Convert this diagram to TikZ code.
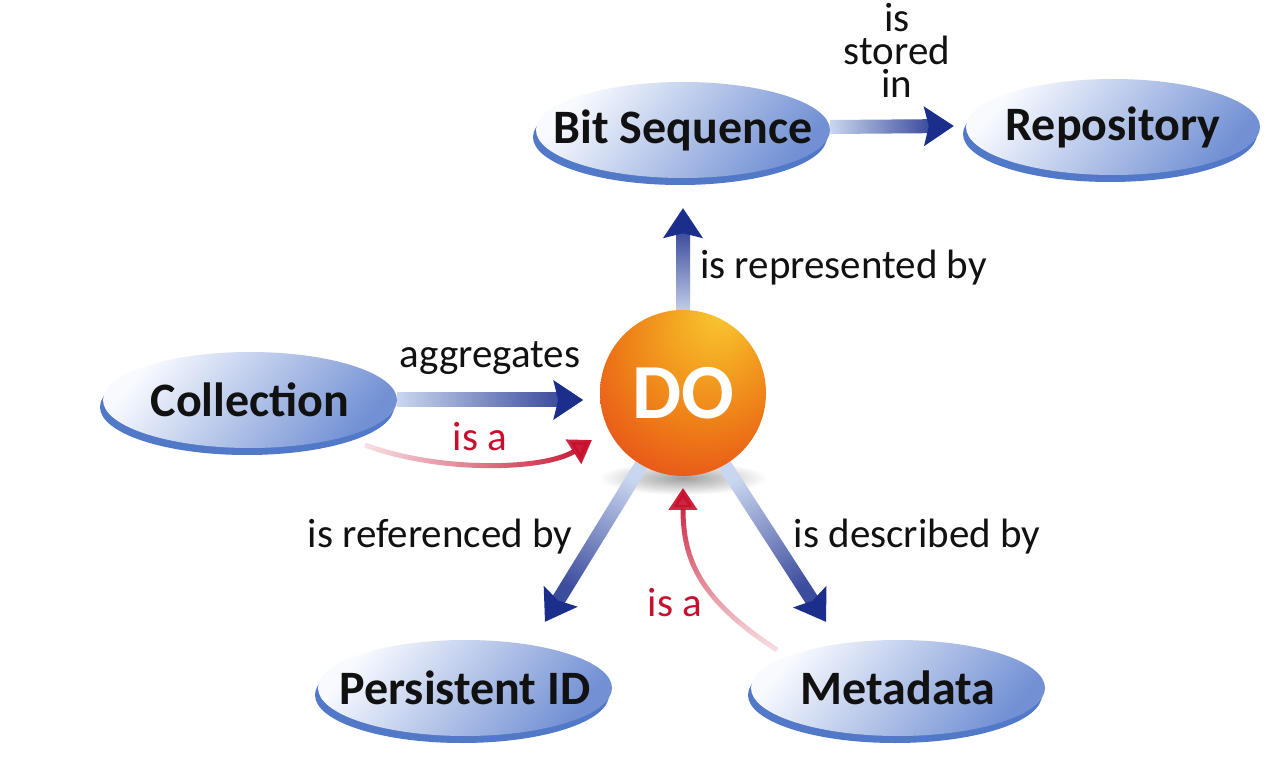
\documentclass[tikz,border=0pt]{standalone}
\usepackage{fontspec}
\setmainfont{Carlito}
\usetikzlibrary{calc,arrows.meta,shapes.geometric,fadings}

\definecolor{rim}{HTML}{5179C8}
\definecolor{elltop}{HTML}{F8FAFE}
\definecolor{ellbot}{HTML}{7290D3}
\definecolor{navy}{HTML}{1B2E8C}
\definecolor{shaftlight}{HTML}{C9D6EF}
\definecolor{isared}{HTML}{C8102E}
\definecolor{txt}{HTML}{111111}
\definecolor{doA}{HTML}{F8CA34}
\definecolor{doB}{HTML}{F4A622}
\definecolor{doC}{HTML}{EE7E18}
\definecolor{doD}{HTML}{E6461A}
\definecolor{doE}{HTML}{DA201C}

\pgfdeclareradialshading{dosphere}{\pgfpoint{12bp}{26bp}}{%
  color(0bp)=(doA);
  color(12bp)=(doB);
  color(25bp)=(doC);
  color(42bp)=(doD);
  color(58bp)=(doE)}

\tikzfading[name=fadein right, left color=transparent!88, right color=transparent!0]
\tikzfading[name=fadein up, bottom color=transparent!88, top color=transparent!0]

\pgfdeclarelayer{bg}
\pgfsetlayers{bg,main}

\tikzset{
  ellnode/.style={ellipse, minimum width=294pt, minimum height=96pt, inner sep=0pt,
    shade, top color=elltop, bottom color=ellbot, shading angle=50,
    font=\fontsize{48}{50}\selectfont\bfseries, text=txt},
  lbl/.style={font=\fontsize{41}{33}\selectfont, text=txt, inner sep=0pt},
  redlbl/.style={lbl, text=isared},
  isaline/.style={draw=isared, line width=5pt, -{Triangle[length=22pt,width=28pt]}},
}

\newcommand\ellnode[3]{%
  \fill[rim] ($#2+(-3,7)$) ellipse [x radius=147pt, y radius=48pt];
  \node[ellnode] (#1) at #2 {\makebox[0pt]{#3}};}

\newcommand\garrow[3]{%
  \coordinate (gh) at ($#2!30pt!#1$);
  \coordinate (gn) at ($#2!25pt!#1$);
  \shade[bottom color=shaftlight, top color=navy!85, shading angle=#3]
    ($#1!7pt!90:#2$) -- ($(gn)!7pt!-90:#1$) -- ($(gn)!7pt!90:#1$) -- ($#1!7pt!-90:#2$) -- cycle;
  \fill[navy] ($(gh)!20pt!-90:#1$) -- #2 -- ($(gh)!20pt!90:#1$) -- (gn) -- cycle;}

\begin{document}
\begin{tikzpicture}[x=1pt,y=-1pt]
\useasboundingbox (0,0) rectangle (1275,783);

\ellnode{bs}{(683,130)}{Bit Sequence}
\ellnode{repo}{(1113,127)}{Repository}
\ellnode{coll}{(250,400)}{Collection}
\ellnode{pid}{(465,688)}{Persistent ID}
\ellnode{meta}{(898,688)}{Metadata}

\node[circle, minimum size=166pt, inner sep=0pt, shade, shading=dosphere,
  text=white, font=\fontsize{78}{80}\selectfont\bfseries] (do) at (683,393) {DO};

% connector end points
\coordinate (a1s) at ($(bs.east)+(0,-3)$);
\coordinate (a1t) at ($(repo.west)+(-12,-1)$);
\coordinate (a2s) at ($(do.north)+(0,6)$);
\coordinate (a2t) at ($(bs.south)+(0,30)$);
\coordinate (a3s) at (coll.east);
\coordinate (a3t) at ($(coll.east)+(186,0)$);
\coordinate (a4s) at (do.240);
\coordinate (a4t) at ($(pid.north)+(80,-18)$);
\coordinate (a5s) at (do.300);
\coordinate (a5t) at ($(meta.north)+(-72,-18)$);
\coordinate (c6s) at ($(coll.center)+(115,45)$);
\coordinate (c6t) at ($(do.center)+(-91,47)$);
\coordinate (c7s) at ($(meta.center)+(-121,-38)$);
\coordinate (c7t) at ($(do.center)+(0,95)$);

\begin{pgfonlayer}{bg}
  \fill[white] (0,0) rectangle (1275,783);
  \shade[inner color=black!38, outer color=white] (683,478) ellipse [x radius=84pt, y radius=17pt];
  \garrow{(a1s)}{(a1t)}{-90}
  \garrow{(a2s)}{(a2t)}{0}
  \garrow{(a3s)}{(a3t)}{-90}
  \garrow{(a4s)}{(a4t)}{147.7}
  \garrow{(a5s)}{(a5t)}{-146.3}
  \draw[isaline, path fading=fadein right] (c6s) .. controls +(75,28) and +(-47,30) .. (c6t);
  \draw[isaline, path fading=fadein up] (c7s) .. controls +(-77,-50) and +(0,72) .. (c7t);
\end{pgfonlayer}

\node[lbl, align=center] (l1) at (897,50) {is\\stored\\in};
\node[lbl, anchor=west] (l2) at (700,268) {is represented by};
\node[lbl] (l3) at (490,358) {aggregates};
\node[redlbl] (l4) at (480,437) {is a};
\node[lbl] (l5) at (440,537) {is referenced by};
\node[lbl] (l6) at (917,537) {is described by};
\node[redlbl] (l7) at (675,603) {is a};
\end{tikzpicture}
\end{document}
